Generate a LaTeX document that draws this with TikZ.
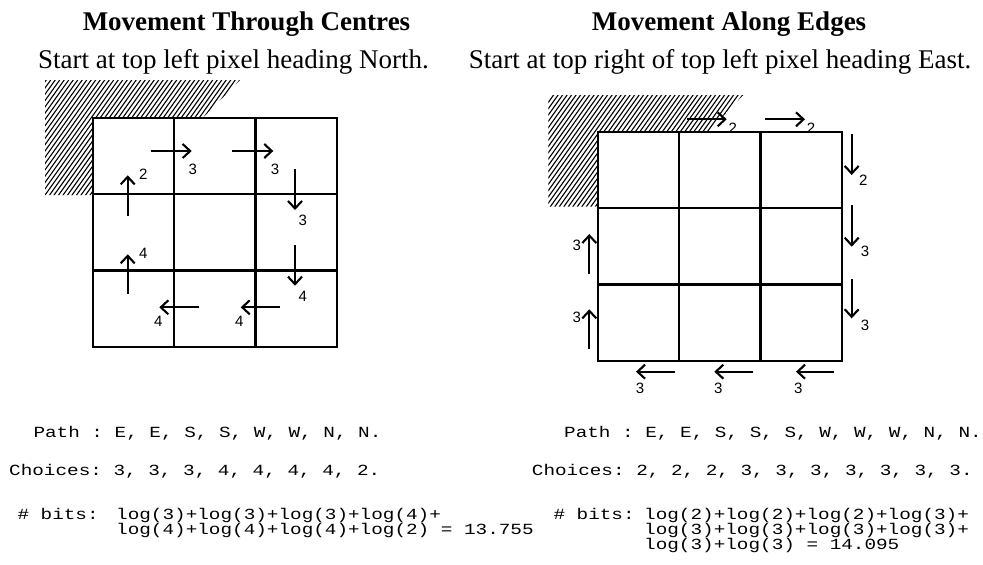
\documentclass[tikz,border=0pt]{standalone}
\usepackage{fontspec}
\setmainfont{Liberation Serif}
\setmonofont{Liberation Mono}[FakeStretch=1.247]
\newfontfamily\digitfont{Liberation Sans}
\usetikzlibrary{arrows.meta}

\tikzset{
  cell/.style={line width=2.3pt,line cap=rect},
  move/.style={line width=2.1pt,-{Straight Barb[length=7.5pt,width=14pt,line width=2.1pt]}},
  choice/.style={font=\digitfont\fontsize{15}{15}\selectfont,inner sep=0pt},
  hatch/.style={line width=1.1pt},
  code/.style={font=\ttfamily\fontsize{15.5}{15.5}\selectfont,anchor=base west,inner sep=0pt},
  heading/.style={font=\bfseries\fontsize{27}{27}\selectfont,anchor=base,inner sep=0pt},
  subheading/.style={font=\fontsize{27}{27}\selectfont,anchor=base,inner sep=0pt},
}

\begin{document}
\begin{tikzpicture}[x=1pt,y=-1pt]
  \useasboundingbox (0,0) rectangle (983,565);
  % headings
  \node[heading] (ltitle) at (246.5,30.5) {Movement Through Centres};
  \node[subheading] (lsub) at (233.5,68) {Start at top left pixel heading North.};
  \node[heading] (rtitle) at (729,30.5) {Movement Along Edges};
  \node[subheading] (rsub) at (720,68) {Start at top right of top left pixel heading East.};

  % outside region (hatched)
  \begin{scope}
    \clip (45,80) -- (240,80) -- (203,117.7) -- (92.7,117.7) -- (92.7,195) -- (45,195) -- cycle;
    \foreach \x in {-80,-75.5,...,250}{
      \draw[hatch] (\x,200) -- ++(100,-140);}
  \end{scope}
  \begin{scope}
    \clip (548.3,95) -- (743.3,95) -- (708,131.7) -- (597.7,131.7) -- (597.7,206.7) -- (548.3,206.7) -- cycle;
    \foreach \x in {470,474.5,...,760}{
      \draw[hatch] (\x,212) -- ++(100,-140);}
  \end{scope}

  % pixel grids
  \foreach \i in {0,...,3}{
    \draw[cell] (92.7+81.33*\i,117.7) -- ++(0,229);
    \draw[cell] (92.7,117.7+76.33*\i) -- ++(244,0);
    \draw[cell] (597.7+81.33*\i,131.7) -- ++(0,229);
    \draw[cell] (597.7,131.7+76.33*\i) -- ++(244,0);}

  % moves through centres
  \foreach \xa/\ya/\xb/\yb/\lx/\ly/\n in {
      150.7/151/191.7/151/192.7/169/3,
      232/151/273.3/151/275/169/3,
      295/169/295/210/302.7/220.7/3,
      295/245/295/285.7/302.7/296/4,
      280/307.3/240.7/307.3/239.3/321.7/4,
      199.3/307.3/159.3/307.3/158.3/321.7/4,
      127.7/294/127.7/254.3/143.3/253.3/4,
      127.7/215.7/127.7/175.3/143.3/174.3/2}{
    \draw[move] (\xa,\ya) -- (\xb,\yb);
    \node[choice] at (\lx,\ly) {\n};}

  % moves along edges
  \foreach \xa/\ya/\xb/\yb/\lx/\ly/\n in {
      686.7/119.3/726.7/119.3/732.7/128.3/2,
      765/119.3/805/119.3/811/128.3/2,
      851.7/134/851.7/175/863.3/180/2,
      851.7/205/851.7/246.7/865/251.7/3,
      851.7/279.3/851.7/318.3/865/325/3,
      834/371.7/796/371.7/798.3/388.3/3,
      753.3/371.7/714.3/371.7/718.3/388.3/3,
      675/371.7/636/371.7/640/388.3/3,
      589.3/349.3/589.3/309.3/576.7/317.3/3,
      589.3/274.3/589.3/234/576.7/245/3}{
    \draw[move] (\xa,\ya) -- (\xb,\yb);
    \node[choice] at (\lx,\ly) {\n};}

  % bit counts
  \node[code] (lpath) at (33.3,437.3) {Path : E, E, S, S, W, W, N, N.};
  \node[code] (lchoices) at (9,475.7) {Choices: 3, 3, 3, 4, 4, 4, 4, 2.};
  \node[code] (lbits) at (17.3,519) {\# bits:};
  \node[code] (lsum) at (116,519) {log(3)+log(3)+log(3)+log(4)+};
  \node[code] (lsumb) at (116,534) {log(4)+log(4)+log(4)+log(2) = 13.755};

  \node[code] (rpath) at (564,437.3) {Path : E, E, S, S, S, W, W, W, N, N.};
  \node[code] (rchoices) at (531.7,475.7) {Choices: 2, 2, 2, 3, 3, 3, 3, 3, 3, 3.};
  \node[code] (rbits) at (553.3,519) {\# bits:};
  \node[code] (rsum) at (644,519) {log(2)+log(2)+log(2)+log(3)+};
  \node[code] (rsumb) at (644,534) {log(3)+log(3)+log(3)+log(3)+};
  \node[code] (rsumc) at (644,549) {log(3)+log(3) = 14.095};
\end{tikzpicture}
\end{document}
